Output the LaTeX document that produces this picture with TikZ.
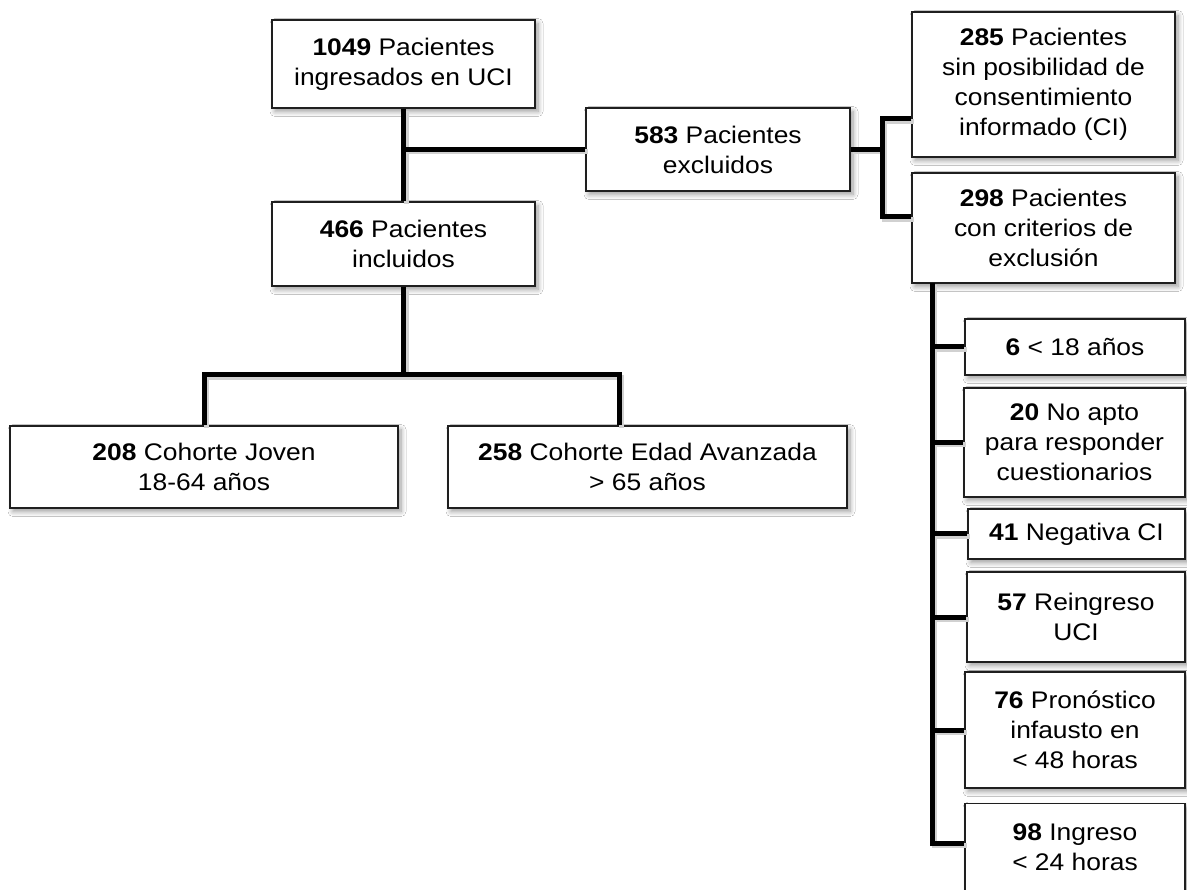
\documentclass[tikz,border=0pt]{standalone}
\usepackage{fontspec}
\setmainfont[FakeStretch=1.1]{Liberation Sans}
\usetikzlibrary{shadows,shadows.blur}
\begin{document}
\begin{tikzpicture}[x=1pt,y=-1pt,
  box/.style={draw=black!88, line width=1.3pt, fill=white, align=center, inner sep=0pt,
    font=\fontsize{24}{30}\selectfont,
    blur shadow={shadow xshift=3pt, shadow yshift=-3.5pt, shadow blur steps=8, shadow blur radius=5pt}},
  conn/.style={draw=black, line width=5pt,
    preaction={draw=black!18, line width=5pt, transform canvas={shift={(2.5pt,-2.5pt)}}}}]
\fill[white] (0,0) rectangle (1187,890);
\useasboundingbox (0,0) rectangle (1187,890);

\coordinate (hb) at (403.5,375);
\coordinate (b1) at (882,119);
\coordinate (b2) at (882,217);
\coordinate (t0) at (932,283);
\coordinate (s98) at (932,843);

% boxes
\node[box, minimum width=263, minimum height=88] (n1049) at (403.5,64) {{\bfseries 1049} Pacientes\\ingresados en UCI};
\node[box, minimum width=264, minimum height=83] (n583) at (718,149.5) {{\bfseries 583} Pacientes\\excluidos};
\node[box, minimum width=263, minimum height=84] (n466) at (403.5,244) {{\bfseries 466} Pacientes\\incluidos};
\node[box, minimum width=263, minimum height=145] (n285) at (1043.5,84.5) {{\bfseries 285} Pacientes\\sin posibilidad de\\consentimiento\\informado (CI)};
\node[box, minimum width=263, minimum height=110] (n298) at (1043.5,228) {{\bfseries 298} Pacientes\\con criterios de\\exclusión};
\node[box, minimum width=388, minimum height=82] (n208) at (204,467) {{\bfseries 208} Cohorte Joven\\18-64 años};
\node[box, minimum width=399, minimum height=82] (n258) at (647.5,467) {{\bfseries 258} Cohorte Edad Avanzada\\> 65 años};
\node[box, minimum width=220, minimum height=56] (n6) at (1075,347) {{\bfseries 6} < 18 años};
\node[box, minimum width=221, minimum height=109] (n20) at (1074.5,442.5) {{\bfseries 20} No apto\\para responder\\cuestionarios};
\node[box, minimum width=217, minimum height=50] (n41) at (1076.5,534) {{\bfseries 41} Negativa CI};
\node[box, minimum width=218, minimum height=90] (n57) at (1076,617) {{\bfseries 57} Reingreso\\UCI};
\node[box, minimum width=220, minimum height=116] (n76) at (1075,730) {{\bfseries 76} Pronóstico\\infausto en\\< 48 horas};
\node[box, minimum width=220, minimum height=116, anchor=north] (n98) at (1075,803) {{\bfseries 98} Ingreso\\< 24 horas\\\mbox{}};

\path (n258.north) ++(-28.5,0) coordinate (c258);

% connectors
\draw[conn] (n1049.south) -- (n466.north);
\draw[conn] (n583.west) -- (n1049.south |- n583.west);
\draw[conn] (n583.east) -- (n583.east -| b1);
\draw[conn] (b1 -| n285.west) -- (b1) -- (b2) -- (b2 -| n298.west);
\draw[conn] (n466.south) -- (hb);
\draw[conn] (n208.north) |- (c258 |- hb) -- (c258);
\draw[conn] (t0) -- (s98) -- (s98 -| n98.west);
\draw[conn] (t0 |- n6.west) -- (n6.west);
\draw[conn] (t0 |- n20.west) -- (n20.west);
\draw[conn] (t0 |- n41.west) -- (n41.west);
\draw[conn] (t0 |- n57.west) -- (n57.west);
\draw[conn] (t0 |- n76.west) -- (n76.west);
\end{tikzpicture}
\end{document}
